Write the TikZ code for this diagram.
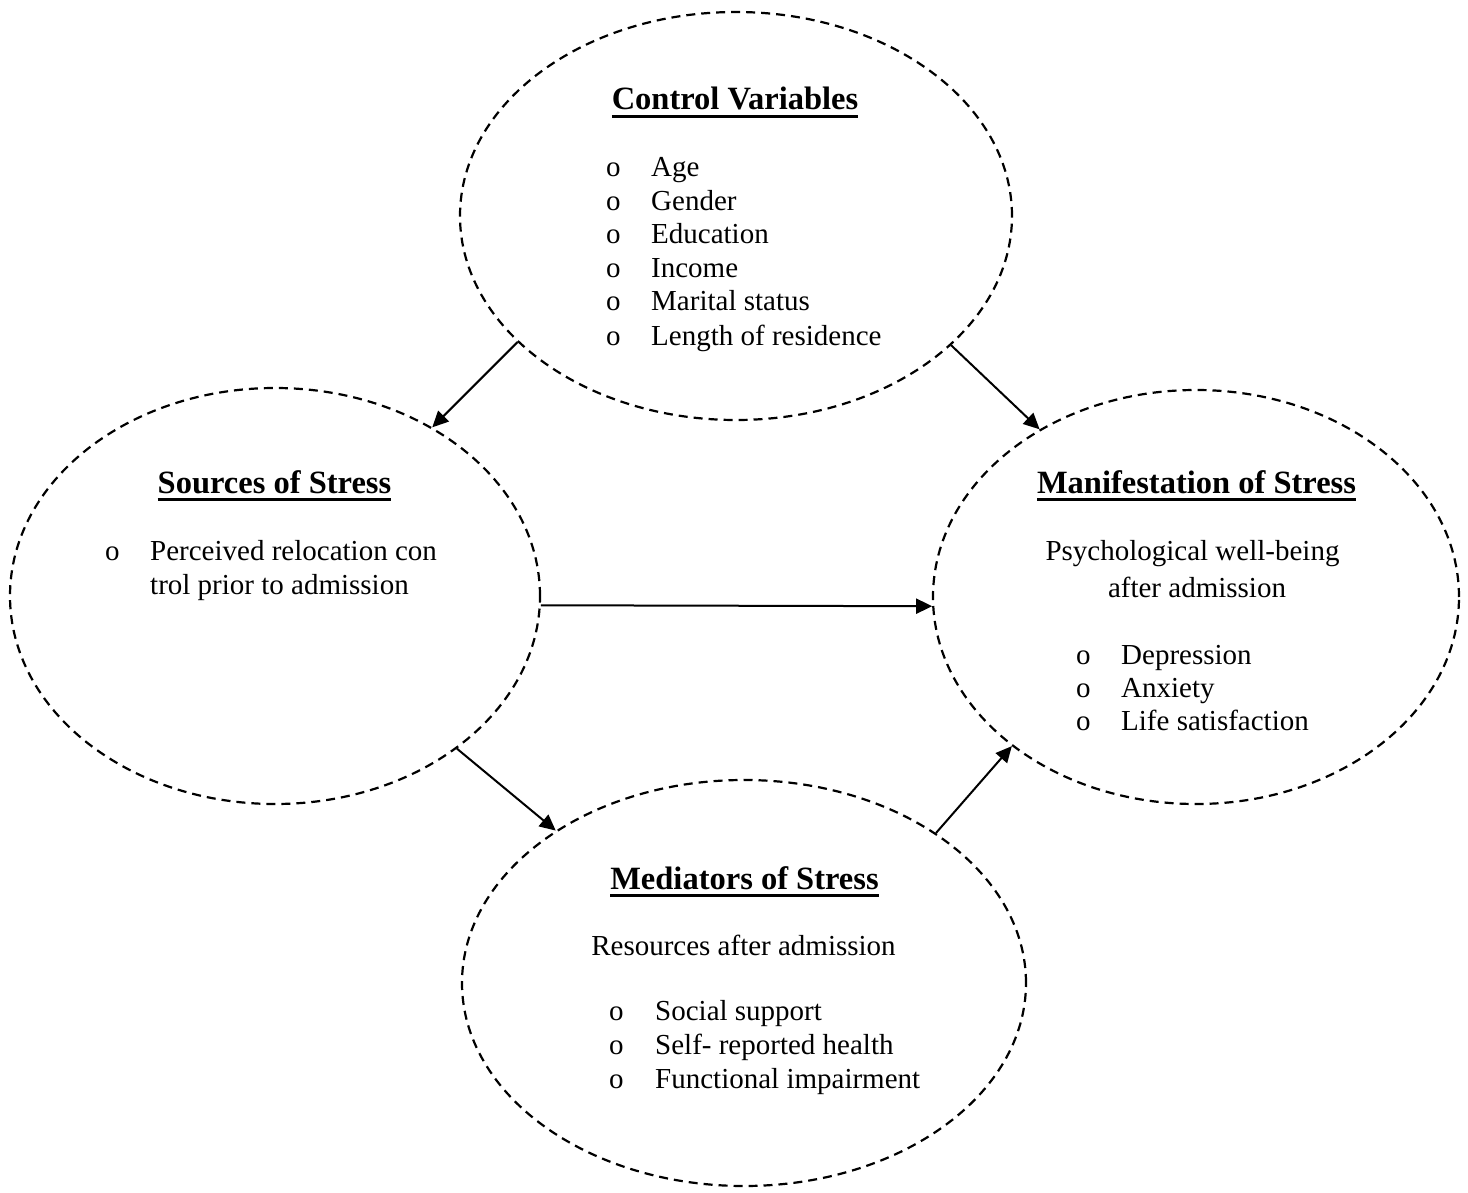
\documentclass[tikz,border=0pt]{standalone}
\usepackage{fontspec}
\setmainfont{Liberation Serif}
\usetikzlibrary{shapes.geometric,arrows.meta}

% bold heading with a thick underline
\newcommand\headline[1]{\setbox0\hbox{\fontsize{32.5}{38}\selectfont\bfseries #1}\rlap{\rule[-8pt]{\wd0}{3pt}}\box0}

\begin{document}
\begin{tikzpicture}[x=1pt,y=-1pt,
  bubble/.style={ellipse,draw,line width=2.2pt,dash pattern=on 9pt off 6pt,inner sep=0pt},
  txt/.style={inner sep=0pt,font=\fontsize{29}{34}\selectfont},
  head/.style={txt,anchor=base},
  item/.style={txt,anchor=base west},
  bul/.style={txt,anchor=base west},
  link/.style={line width=2pt,-{Triangle[length=16pt,width=15pt]}}]
\useasboundingbox (0,0) rectangle (1468,1193);

% ellipses
\node[bubble,minimum width=552pt,minimum height=408pt] (ctrl) at (736,216) {};
\node[bubble,minimum width=530pt,minimum height=416pt] (src) at (275,596) {};
\node[bubble,minimum width=526pt,minimum height=414pt] (man) at (1196,597) {};
\node[bubble,minimum width=564pt,minimum height=406pt] (med) at (744,983) {};

% control variables
\node[head] (ctrlT) at (735,110) {\headline{Control Variables}};
\foreach \y/\t [count=\i] in {177/Age,210.5/Gender,244/Education,278/Income,311/Marital status,345/Length of residence}{
  \node[bul] (cb\i) at (606,\y) {o};
  \node[item] (ct\i) at (651,\y) {\t};
}

% sources of stress
\node[head] (srcT) at (274.5,493) {\headline{Sources of Stress}};
\node[bul] (sb1) at (105,560) {o};
\node[item] (st1) at (150,560) {Perceived relocation con};
\node[item] (st2) at (150,594) {trol prior to admission};

% manifestation of stress
\node[head] (manT) at (1196.5,493) {\headline{Manifestation of Stress}};
\node[head] (ms1) at (1192.5,560) {Psychological well-being};
\node[head] (ms2) at (1197,597) {after admission};
\foreach \y/\t [count=\i] in {664/Depression,697/Anxiety,730/Life satisfaction}{
  \node[bul] (mb\i) at (1076,\y) {o};
  \node[item] (mt\i) at (1121,\y) {\t};
}

% mediators of stress
\node[head] (medT) at (744.5,889) {\headline{Mediators of Stress}};
\node[head] (ds1) at (743.5,955) {Resources after admission};
\foreach \y/\t [count=\i] in {1020/Social support,1054/Self- reported health,1088/Functional impairment}{
  \node[bul] (db\i) at (609,\y) {o};
  \node[item] (dt\i) at (655,\y) {\t};
}

% connectors
\draw[link] (ctrl.210.8) -- (src.47);
\draw[link] (ctrl.329.7) -- (man.133);
\draw[link] (src.-2.38) -- (man.182.18);
\draw[link] (src.-40.9) -- (med.141.4);
\draw[link] (med.38) -- (man.219.3);
\end{tikzpicture}
\end{document}
